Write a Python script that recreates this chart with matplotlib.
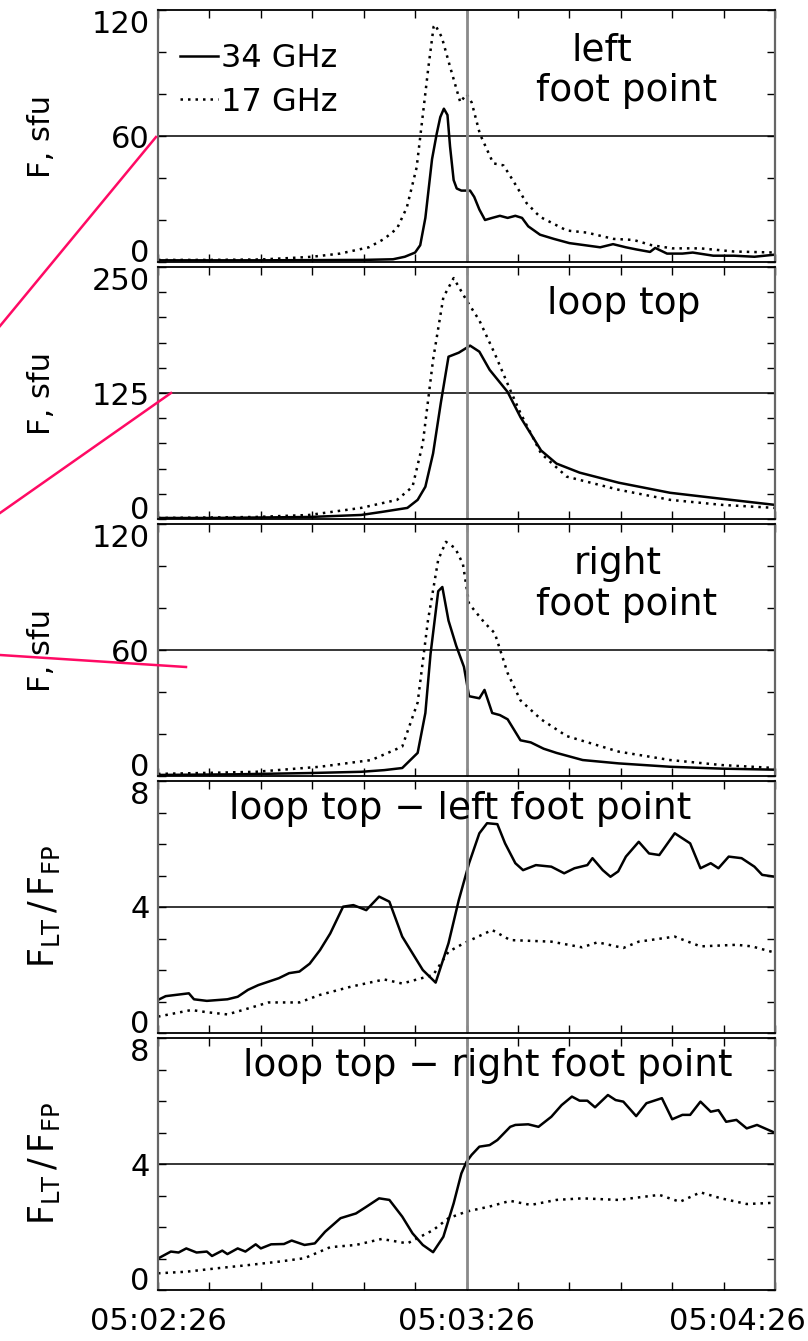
import numpy as np
import matplotlib.pyplot as plt
from matplotlib.lines import Line2D
from matplotlib.transforms import ScaledTranslation

plt.rcParams['font.family'] = ['DejaVu Sans']
plt.rcParams['mathtext.fontset'] = 'dejavusans'

# time axis: seconds after 05:02:26
x_ticklabels = ["05:02:26", "05:03:26", "05:04:26"]
x_labeled = [0, 60, 120]
t_mark = 60  # vertical reference line

# left foot point, 34 GHz / 17 GHz (sfu)
t_lfp34 = [0, 20, 40, 45.7, 48, 50, 51, 52, 53.3, 54.2, 54.9, 55.6, 56.3, 56.8, 57.5, 58.1,
           59, 60.7, 61.5, 62.5, 63.6, 65, 66.5, 68, 69.5, 70.8, 72, 74.3, 77, 80, 83, 86,
           88.5, 91, 93, 95.7, 96.7, 99, 102, 104, 108, 112, 116, 120]
f_lfp34 = [0.8, 0.8, 1, 1.3, 2.5, 4.5, 8, 21, 49, 61, 69, 73, 70, 55, 39, 35,
           34, 34, 31, 25, 20, 21, 22, 21, 22, 21, 17, 13, 11, 9, 8, 7,
           8.5, 7, 6, 4.8, 6.7, 4, 4, 4.5, 3, 3, 2.5, 3.5]
t_lfp17 = [0, 10, 20, 25.7, 30, 35.4, 41, 44, 46.5, 48.4, 50.3, 51.6, 52.6, 53.6, 53.9, 55.2,
           56.8, 58.8, 60, 61, 62.6, 65.2, 67.2, 69, 71.7, 74.3, 79.5, 83.4, 88.6, 92.5, 96,
           100, 105.5, 112, 120]
f_lfp17 = [1, 1, 1.2, 1.9, 2.5, 4, 7, 11, 16, 26, 45, 72, 93, 112, 113, 107,
           93, 76, 80, 76, 61, 47, 46, 39, 28, 21.5, 15, 14, 11, 10.5, 8,
           6.5, 6.5, 5, 4.5]

# loop top
t_lt34 = [0, 10, 20, 29.4, 39.5, 43.5, 48.5, 50.5, 52, 53.5, 55, 56.5, 58.5, 60.7, 62.5,
          64.5, 68, 70.5, 74.5, 77.5, 82, 89.6, 99.6, 109.7, 120]
f_lt34 = [1, 1, 1.5, 2, 4, 7, 11, 19, 32, 65, 115, 161, 165, 172, 166,
          148, 126, 101, 68, 55, 46, 36, 26, 20, 14]
t_lt17 = [0, 10, 19, 29.4, 39.5, 46.5, 49.5, 51.5, 53.5, 55.5, 57.5, 60, 62.5, 65.5, 68.5,
          70.5, 74.5, 79.5, 89.6, 99.6, 109.7, 120]
f_lt17 = [1, 1.5, 2, 4, 11, 19, 32, 75, 158, 220, 239, 217, 197, 164, 128,
          105, 65, 42, 29, 19, 14, 11]

# right foot point
t_rfp34 = [0, 15, 29.4, 39.5, 44, 47.5, 50.5, 52, 53, 54.5, 55.3, 56.5, 58, 59.5, 60.5, 62.5,
           63.5, 65, 66.5, 68, 70.5, 72.5, 75, 77.5, 82.6, 89.6, 99.6, 109.7, 120]
f_rfp34 = [0.5, 0.8, 1.4, 2, 2.8, 3.8, 11, 30, 58, 88, 90, 74, 62, 52, 38, 37,
           41, 30, 29, 27, 17, 16, 13, 11, 7.6, 6, 4.4, 3.5, 3]
t_rfp17 = [0, 10, 19, 31.5, 41.5, 47.5, 50.5, 52.5, 54.5, 56, 57.8, 59.3, 60.5, 63.5, 65.5,
           68, 70.5, 74.5, 79.5, 89.6, 99.6, 109.7, 120]
f_rfp17 = [1, 1.5, 2, 4.4, 7.6, 14, 35, 74, 103, 111.5, 108.5, 101, 82, 73, 68,
           49, 36, 27, 19, 11.6, 7.6, 5.2, 3.8]

# ratio loop top / left foot point
t_rl34 = [0, 1.5, 6, 7, 9.5, 13.5, 15.5, 17.5, 19.5, 21.5, 23.5, 25.5, 27.5, 29.5, 31.5, 33.5,
          36, 38, 40.5, 43, 45, 47.5, 49.5, 51.5, 54, 56.5, 58.5, 60.5, 62.5, 64, 66, 67.5,
          69.5, 71, 73.5, 76.5, 79, 81, 83.5, 84.5, 86.5, 88, 89.5, 91, 93.5, 95.5, 97.5,
          100.5, 103.5, 105.5, 107.5, 109, 111, 113.5, 116, 117.5, 120]
r_rl34 = [1.05, 1.17, 1.26, 1.07, 1.02, 1.07, 1.15, 1.37, 1.52, 1.63, 1.74, 1.9, 1.95, 2.2, 2.63, 3.16,
          4.01, 4.06, 3.9, 4.33, 4.17, 3.06, 2.53, 2.0, 1.6, 2.85, 4.22, 5.39, 6.34, 6.66, 6.63, 6.02,
          5.39, 5.17, 5.33, 5.28, 5.07, 5.23, 5.33, 5.55, 5.17, 4.96, 5.13, 5.6, 6.07, 5.7, 5.65,
          6.34, 6.02, 5.23, 5.39, 5.23, 5.6, 5.55, 5.28, 5.02, 4.96]
t_rl17 = [0, 6.5, 9.5, 13.5, 16.5, 21.5, 27.5, 31.5, 37.5, 44, 47.5, 53.5, 56.5, 59.5, 65,
          68.5, 76.5, 82.5, 85.5, 90.5, 93.5, 100.5, 105.5, 112.5, 115.5, 120]
r_rl17 = [0.52, 0.73, 0.66, 0.59, 0.73, 0.97, 0.97, 1.21, 1.47, 1.7, 1.57, 1.84, 2.58, 2.85, 3.27,
          2.95, 2.9, 2.72, 2.88, 2.7, 2.9, 3.06, 2.75, 2.8, 2.75, 2.55]

# ratio loop top / right foot point
t_rr34 = [0, 2.5, 4, 5.5, 7.5, 9.5, 10.5, 12.5, 13.5, 15.5, 17, 19, 20, 22, 24.5, 26, 28.5,
          30.5, 32.5, 35.5, 38.5, 40.5, 43, 45, 47.5, 49.5, 51.5, 53.5, 55.5, 57.5, 59, 60,
          61, 62.5, 64.5, 66, 68.5, 69.5, 72, 74, 76.5, 78.5, 80.5, 82, 83.5, 85, 87.5, 89,
          90.5, 93, 95, 98, 100, 102, 103.5, 105.5, 107.5, 109, 110.5, 112.5, 114.5, 116.5, 120]
r_rr34 = [1.0, 1.22, 1.19, 1.32, 1.19, 1.22, 1.08, 1.25, 1.14, 1.32, 1.22, 1.45, 1.32, 1.45, 1.46, 1.57, 1.43,
          1.48, 1.85, 2.28, 2.43, 2.64, 2.91, 2.86, 2.33, 1.8, 1.43, 1.2, 1.69, 2.75, 3.7, 4.07,
          4.29, 4.55, 4.6, 4.76, 5.18, 5.24, 5.26, 5.18, 5.5, 5.87, 6.14, 6.01, 6.01, 5.8, 6.19, 6.03,
          5.98, 5.52, 5.93, 6.09, 5.42, 5.56, 5.56, 5.98, 5.66, 5.71, 5.34, 5.4, 5.13, 5.24, 4.99]
t_rr17 = [0, 5.5, 11.5, 17.5, 23.5, 28.5, 33.5, 38.5, 43.5, 48.5, 53.5, 56.5, 60, 64.5, 68.5,
          72.5, 77.5, 82.5, 89.5, 97.5, 101.5, 105.5, 109.5, 114.5, 120]
r_rr17 = [0.53, 0.58, 0.69, 0.79, 0.9, 1.01, 1.36, 1.43, 1.62, 1.48, 1.9, 2.28, 2.49, 2.65, 2.83,
          2.7, 2.86, 2.91, 2.86, 3.02, 2.8, 3.1, 2.91, 2.73, 2.77]

flux_label = "F, sfu"
ratio_label = r"$\mathregular{F_{LT}\,/\,F_{FP}}$"
panels = [
    dict(s34=(t_lfp34, f_lfp34), s17=(t_lfp17, f_lfp17), ymax=120, ystep=20,
         ylabels=[0, 60, 120], ylabel=flux_label),
    dict(s34=(t_lt34, f_lt34), s17=(t_lt17, f_lt17), ymax=250, ystep=25,
         ylabels=[0, 125, 250], ylabel=flux_label),
    dict(s34=(t_rfp34, f_rfp34), s17=(t_rfp17, f_rfp17), ymax=120, ystep=20,
         ylabels=[0, 60, 120], ylabel=flux_label),
    dict(s34=(t_rl34, r_rl34), s17=(t_rl17, r_rl17), ymax=8, ystep=1,
         ylabels=[0, 4, 8], ylabel=ratio_label),
    dict(s34=(t_rr34, r_rr34), s17=(t_rr17, r_rr17), ymax=8, ystep=1,
         ylabels=[0, 4, 8], ylabel=ratio_label),
]

# layout in pixels
W, H = 808, 1341
left_px, right_px = 158, 775
top0, panel_h, step = 10, 252, 257

fig = plt.figure(figsize=(W / 100, H / 100), dpi=100)
axes = []
for i, p in enumerate(panels):
    bottom = 1 - (top0 + step * i + panel_h) / H
    ax = fig.add_axes([left_px / W, bottom, (right_px - left_px) / W, panel_h / H])
    axes.append(ax)

    ax.plot(*p["s34"], color="black", lw=1.8, label="34 GHz")
    ax.plot(*p["s17"], color="black", lw=1.8, ls=(0, (1, 2)), label="17 GHz")
    ax.axhline(p["ymax"] / 2, color="black", lw=1.1)
    ax.axvline(t_mark, color="#8a8a8a", lw=2)

    ax.set_xlim(0, 120)
    ax.set_ylim(0, p["ymax"])
    ax.set_xticks(np.arange(0, 121, 10))
    if i == len(panels) - 1:
        ax.set_xticklabels([x_ticklabels[x_labeled.index(v)] if v in x_labeled else ""
                            for v in range(0, 121, 10)])
    else:
        ax.set_xticklabels([])
    yt = np.arange(0, p["ymax"] + 0.001, p["ystep"])
    ax.set_yticks(yt)
    ax.set_yticklabels([f"{v:g}" if v in p["ylabels"] else "" for v in yt])
    for lab, v in zip(ax.get_yticklabels(), yt):
        if v == 0:
            lab.set_verticalalignment("baseline")
        elif v == p["ymax"]:
            lab.set_verticalalignment("top")
        else:
            lab.set_verticalalignment("center_baseline")
    ax.tick_params(direction="in", length=6, width=1, top=True, right=True,
                   labelsize=22, pad=6)
    ax.tick_params(axis="x", pad=12, labelsize=22)
    for side in ["top", "bottom"]:
        ax.spines[side].set_linewidth(1.3)
    for side in ["left", "right"]:
        ax.spines[side].set_color("#666666")
        ax.spines[side].set_linewidth(1.6)

    ax.set_ylabel(p["ylabel"], fontsize=22 if i < 3 else 25)
    ax.yaxis.set_label_coords(-0.165 if i < 3 else -0.155, 0.5)

# keep the last time label inside the figure, as in the original
last = axes[-1].get_xticklabels()[-1]
last.set_horizontalalignment("right")
last.set_transform(last.get_transform() + ScaledTranslation(0.31, 0, fig.dpi_scale_trans))

# panel titles
ax1, ax2, ax3, ax4, ax5 = axes
fs_title = 27
ax1.text(0.72, 0.84, "left", transform=ax1.transAxes, ha="center", va="center", fontsize=fs_title)
ax1.text(0.76, 0.68, "foot point", transform=ax1.transAxes, ha="center", va="center", fontsize=fs_title)
ax2.text(0.755, 0.855, "loop top", transform=ax2.transAxes, ha="center", va="center", fontsize=fs_title)
ax3.text(0.745, 0.84, "right", transform=ax3.transAxes, ha="center", va="center", fontsize=fs_title)
ax3.text(0.76, 0.68, "foot point", transform=ax3.transAxes, ha="center", va="center", fontsize=fs_title)
ax4.text(0.49, 0.89, "loop top \u2212 left foot point", transform=ax4.transAxes,
         ha="center", va="center", fontsize=fs_title)
ax5.text(0.535, 0.89, "loop top \u2212 right foot point", transform=ax5.transAxes,
         ha="center", va="center", fontsize=fs_title)

ax1.legend(loc="upper left", bbox_to_anchor=(0.035, 0.87), frameon=False, fontsize=23,
           handlelength=1.2, handletextpad=0.1, labelspacing=0.4, borderpad=0,
           borderaxespad=0)

# pink connector lines coming from the neighbouring figure (pixel endpoints)
pink_lines = [((0, 326), (156, 137)), ((0, 513), (171, 393)), ((0, 655), (186, 667))]
for (x0, y0), (x1, y1) in pink_lines:
    fig.add_artist(Line2D([x0 / W, x1 / W], [1 - y0 / H, 1 - y1 / H],
                          transform=fig.transFigure, color="#ff0a64", lw=1.8))

fig.savefig("out.png", dpi=100)
